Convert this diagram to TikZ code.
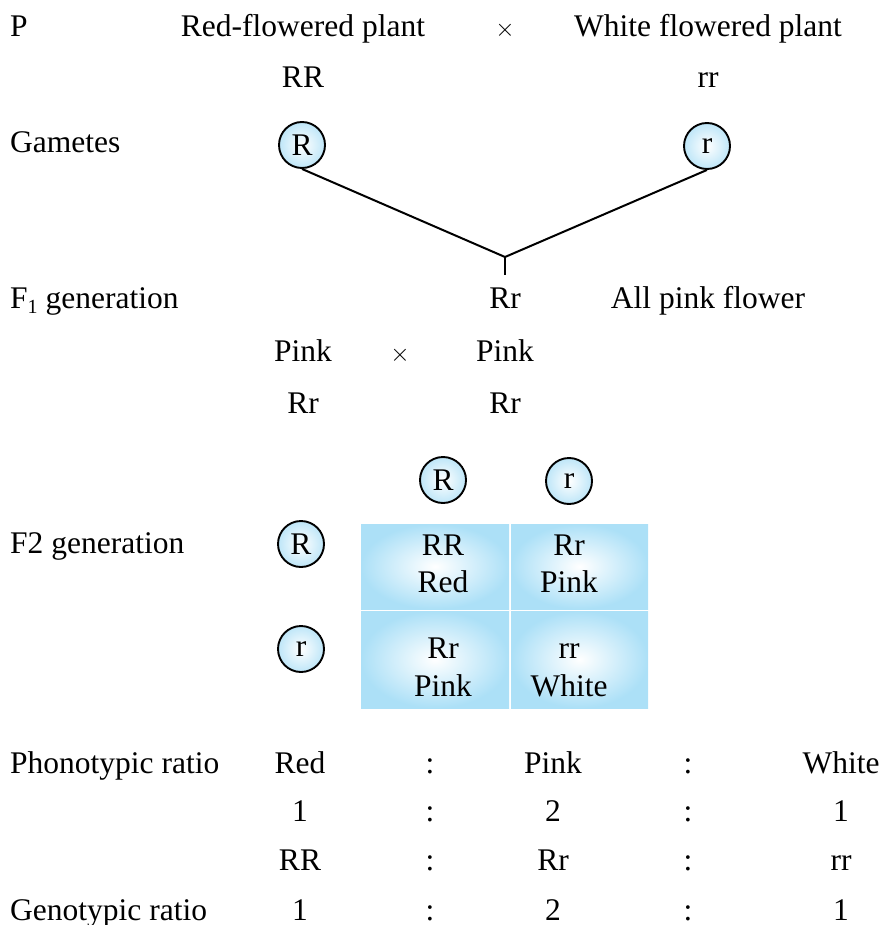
\documentclass[tikz,border=0pt]{standalone}
\usepackage{fontspec}
\setmainfont{Liberation Serif}
\usetikzlibrary{positioning}
\definecolor{cellblue}{RGB}{172,224,247}
\definecolor{gamblue}{RGB}{190,230,248}
\tikzset{
    % plain text rows
    txt/.style={anchor=base,inner sep=0pt,font=\fontsize{31.5}{37}\selectfont},
    lbl/.style={txt,anchor=base west},
    % gamete circles
    gam/.style={
           circle,
           draw,
           line width=1.9pt,
           minimum size=46pt,
           inner sep=0pt,
           inner color=white,
           outer color=gamblue,
           font=\fontsize{31.5}{37}\selectfont},
    % punnett square cells
    cell/.style={
           rectangle,
           inner sep=0pt,
           inner color=white,
           outer color=cellblue},
    lnk/.style={line width=2pt}
}
\begin{document}
\begin{tikzpicture}[x=1pt,y=-1pt]
  \useasboundingbox (0,0) rectangle (883,925);
  % parents
  \node (P) at (10,37) [lbl] {P};
  \node (red) at (303,37) [txt] {Red-flowered plant};
  \node (x1) at (505,37) [txt] {$\times$};
  \node (white) at (708,37) [txt] {White flowered plant};
  \node (RR) at (303,88) [txt] {RR};
  \node (rr) at (708,88) [txt] {rr};
  % gametes
  \node (G) at (10,153) [lbl] {Gametes};
  \node (gR) at (302,145) [gam] {R};
  \node (gr) at (707,146) [gam] {r};
  \coordinate (join) at (505,257);
  \coordinate (stem) at (505,275);
  \draw [lnk] (gR.south) -- (join) -- (gr.south);
  \draw [lnk] (join) -- (stem);
  % F1
  \node (F1) at (10,308) [lbl] {F\raisebox{-5pt}{\fontsize{20}{24}\selectfont 1} generation};
  \node (f1) at (505,308) [txt] {Rr};
  \node (allpink) at (708,308) [txt] {All pink flower};
  \node (pinkA) at (303,361) [txt] {Pink};
  \node (x2) at (400,361) [txt] {$\times$};
  \node (pinkB) at (505,361) [txt] {Pink};
  \node (RrA) at (303,413) [txt] {Rr};
  \node (RrB) at (505,413) [txt] {Rr};
  % F2 punnett square
  \node (F2) at (10,553) [lbl] {F2 generation};
  \node (cR) at (443,480) [gam] {R};
  \node (cr) at (569,481) [gam] {r};
  \node (rR) at (301,544) [gam] {R};
  \node (rr2) at (301,649) [gam] {r};
  \node (c11) at (435,566.5) [cell,minimum width=148pt,minimum height=85pt] {};
  \node (c12) at (579.5,566.5) [cell,minimum width=137pt,minimum height=85pt] {};
  \node (c21) at (435,659.5) [cell,minimum width=148pt,minimum height=97pt] {};
  \node (c22) at (579.5,659.5) [cell,minimum width=137pt,minimum height=97pt] {};
  \node (t11a) at (443,555) [txt] {RR};
  \node (t11b) at (443,592) [txt] {Red};
  \node (t12a) at (569,555) [txt] {Rr};
  \node (t12b) at (569,592) [txt] {Pink};
  \node (t21a) at (443,658) [txt] {Rr};
  \node (t21b) at (443,696) [txt] {Pink};
  \node (t22a) at (569,658) [txt] {rr};
  \node (t22b) at (569,696) [txt] {White};
  % ratios
  \node (pheno) at (10,773) [lbl] {Phonotypic ratio};
  \node (geno) at (10,920) [lbl] {Genotypic ratio};
  \foreach \a/\b/\c/\y [count=\i] in {Red/Pink/White/773,1/2/1/821,RR/Rr/rr/870,1/2/1/920}{
    \node (ra\i) at (300,\y) [txt] {\a};
    \node (rb\i) at (553,\y) [txt] {\b};
    \node (rc\i) at (841,\y) [txt] {\c};
    \node (ca\i) at (430,\y) [txt] {:};
    \node (cb\i) at (688,\y) [txt] {:};
  }
\end{tikzpicture}
\end{document}
